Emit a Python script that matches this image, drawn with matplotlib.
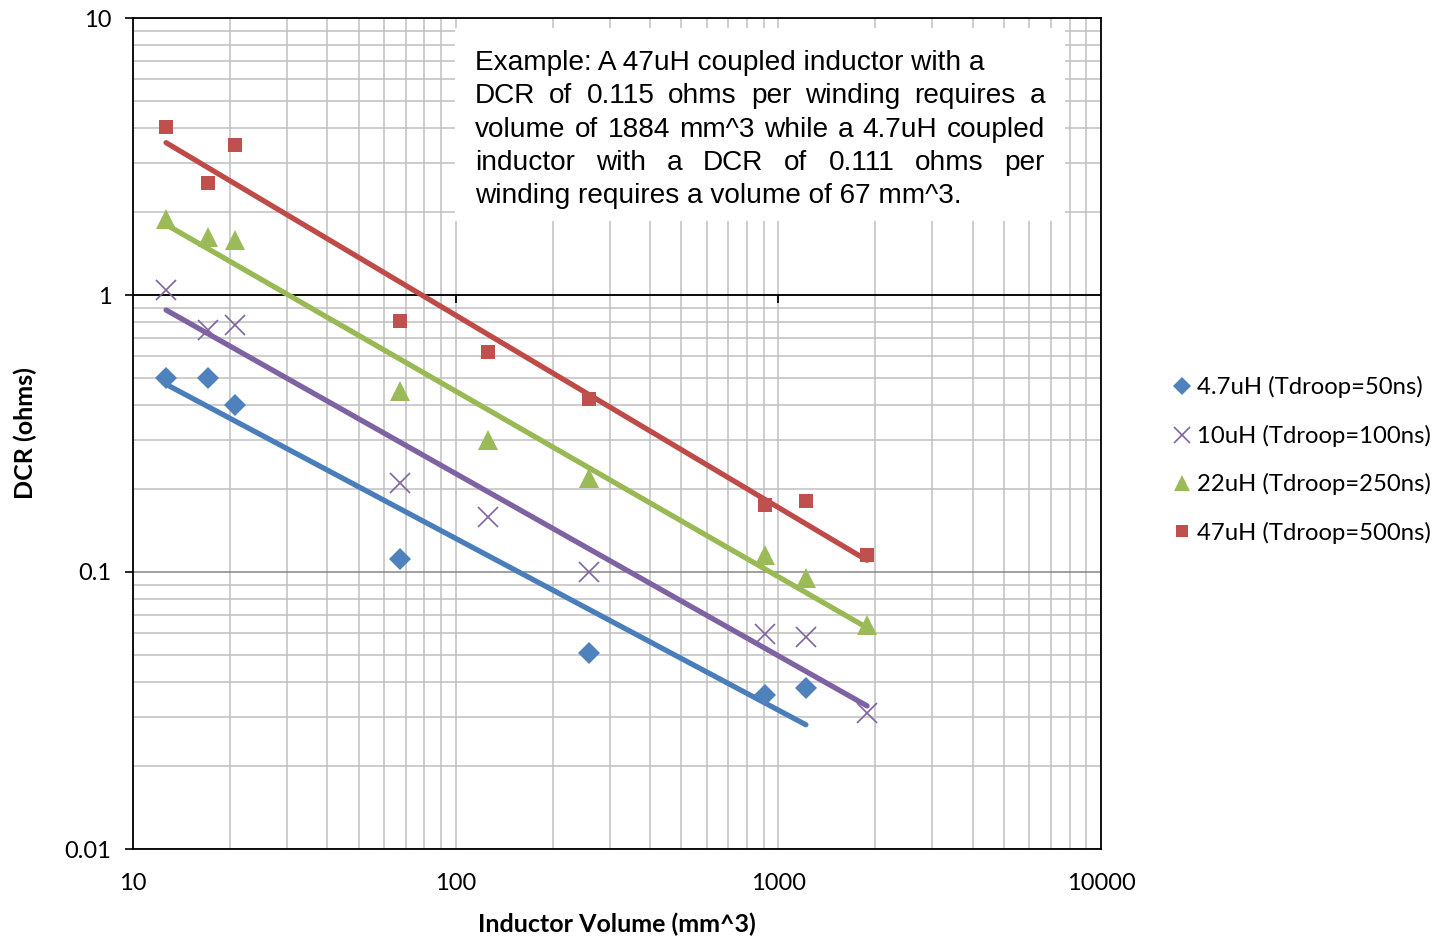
import matplotlib
matplotlib.use("Agg")
import matplotlib.pyplot as plt
import numpy as np
from matplotlib.ticker import FixedLocator, FixedFormatter, LogLocator, NullFormatter
from matplotlib.patches import Rectangle

# ---------------- data ----------------
vol_47 = [12.66, 17.08, 20.7, 67, 259, 908, 1217]
dcr_47 = [0.50, 0.50, 0.401, 0.111, 0.051, 0.036, 0.038]

vol_10 = [12.66, 17.08, 20.7, 67, 126, 259, 908, 1217, 1884]
dcr_10 = [1.04, 0.748, 0.78, 0.21, 0.158, 0.100, 0.0597, 0.0583, 0.031]

vol_22 = [12.66, 17.08, 20.7, 67, 126, 259, 908, 1217, 1884]
dcr_22 = [1.88, 1.62, 1.58, 0.45, 0.30, 0.218, 0.115, 0.095, 0.0644]

vol_470 = [12.66, 17.08, 20.7, 67, 126, 259, 908, 1217, 1884]
dcr_470 = [4.04, 2.54, 3.48, 0.806, 0.622, 0.421, 0.1745, 0.180, 0.115]

labels = ["4.7uH (Tdroop=50ns)", "10uH (Tdroop=100ns)",
          "22uH (Tdroop=250ns)", "47uH (Tdroop=500ns)"]

x_ticks = [10, 100, 1000, 10000]
x_ticklabels = ["10", "100", "1000", "10000"]
y_ticks = [0.01, 0.1, 1, 10]
y_ticklabels = ["0.01", "0.1", "1", "10"]

note_lines = [
    "Example: A 47uH coupled inductor with a",
    "DCR of 0.115 ohms per winding requires a",
    "volume of 1884 mm^3 while a 4.7uH coupled",
    "inductor with a DCR of 0.111 ohms per",
    "winding requires a volume of 67 mm^3.",
]
note_justify = [False, True, True, True, False]

# ---------------- style ----------------
W, H = 1441, 943
fig = plt.figure(figsize=(W / 100, H / 100), dpi=100)
ax = fig.add_axes([133 / W, 1 - 849 / H, (1101 - 133) / W, (849 - 18) / H])

ui_font = ["Lato", "DejaVu Sans"]
note_font = ["Liberation Sans", "DejaVu Sans"]

ax.set_xscale("log")
ax.set_yscale("log")
ax.set_xlim(10, 10000)
ax.set_ylim(0.01, 10)

# grid
ax.set_axisbelow(True)
ax.xaxis.set_minor_locator(LogLocator(base=10, subs=np.arange(2, 10)))
ax.yaxis.set_minor_locator(LogLocator(base=10, subs=np.arange(2, 10)))
ax.xaxis.set_minor_formatter(NullFormatter())
ax.yaxis.set_minor_formatter(NullFormatter())
ax.grid(True, which="minor", axis="both", color="#c0c0c0", lw=1.1)
ax.grid(True, which="major", axis="x", color="#c0c0c0", lw=1.1)
ax.grid(True, which="major", axis="y", color="#868686", lw=1.1)

ax.xaxis.set_major_locator(FixedLocator(x_ticks))
ax.xaxis.set_major_formatter(FixedFormatter(x_ticklabels))
ax.yaxis.set_major_locator(FixedLocator(y_ticks))
ax.yaxis.set_major_formatter(FixedFormatter(y_ticklabels))
ax.tick_params(axis="x", which="both", length=0, pad=17, labelsize=17, colors="black")
ax.tick_params(axis="y", which="major", length=5.5, width=1.2, direction="out", pad=10, labelsize=17)
ax.tick_params(axis="y", which="minor", length=0)
for lab in ax.get_xticklabels() + ax.get_yticklabels():
    lab.set_fontfamily(ui_font)

for sp in ax.spines.values():
    sp.set_color("black")
    sp.set_linewidth(1.3)

# horizontal axis crossing at y = 1, with downward ticks
ax.axhline(1, color="black", lw=1.3, zorder=1.5)
ax.vlines(x_ticks[1:3], 10 ** (-7.5 / 277), 1, color="black", lw=1.3, zorder=1.5)

# white note box
ax.add_patch(Rectangle((0.333, 0.756), 0.630, 0.232, transform=ax.transAxes,
                       facecolor="white", edgecolor="none", zorder=1.2))

# ---------------- series ----------------
series = [
    (vol_47, dcr_47, "D", 11.5, "#4F81BD", "#4A7EBB", labels[0]),
    (vol_10, dcr_10, "x", 14, "#8064A2", "#7E62A1", labels[1]),
    (vol_22, dcr_22, "^", 14.5, "#9BBB59", "#98B954", labels[2]),
    (vol_470, dcr_470, "s", 10.5, "#C0504D", "#BE4B48", labels[3]),
]

handles = []
for xs, ys, mk, ms, mc, lc, lab in series:
    xs = np.array(xs, float)
    ys = np.array(ys, float)
    # power trendline (least squares in log-log space)
    b, a = np.polyfit(np.log(xs), np.log(ys), 1)
    xt = np.array([xs.min(), xs.max()])
    ax.plot(xt, np.exp(a) * xt ** b, color=lc, lw=3.8, solid_capstyle="round", zorder=3)
    if mk == "x":
        h, = ax.plot(xs, ys, ls="none", marker=mk, ms=ms, mec=mc, mew=1.2, label=lab, zorder=4)
    else:
        h, = ax.plot(xs, ys, ls="none", marker=mk, ms=ms, mfc=mc, mec=mc, mew=0, label=lab, zorder=4)
    handles.append(h)

leg = fig.legend(handles=handles, loc="center left", bbox_to_anchor=(1170 / W, 1 - 460 / H),
                 frameon=False, prop={"family": ui_font, "size": 17.2},
                 handlelength=1.0, handletextpad=0.12, borderpad=0, borderaxespad=0,
                 labelspacing=1.1, markerscale=0.8)

# axis titles
fig.text(617 / W, 1 - 924 / H, "Inductor Volume (mm^3)", ha="center", va="center",
         fontsize=18, fontweight="bold", family=ui_font)
fig.text(25 / W, 1 - 433 / H, "DCR (ohms)", ha="center", va="center", rotation=90,
         fontsize=18, fontweight="bold", family=ui_font)

# ---------------- justified note text ----------------
note_fs = 20.2
left_px, right_px = 475, 1045
base0, step = 70, 33.3
renderer = fig.canvas.get_renderer()


def text_width(s):
    t = fig.text(0, 0, s, fontsize=note_fs, family=note_font)
    w = t.get_window_extent(renderer=renderer).width
    t.remove()
    return w


for i, (line, just) in enumerate(zip(note_lines, note_justify)):
    yb = 1 - (base0 + i * step) / H
    if not just:
        fig.text(left_px / W, yb, line, fontsize=note_fs, family=note_font,
                 ha="left", va="baseline", zorder=5)
        continue
    words = line.split()
    widths = [text_width(w) for w in words]
    gap = (right_px - left_px - sum(widths)) / (len(words) - 1)
    x = left_px
    for w, ww in zip(words, widths):
        fig.text(x / W, yb, w, fontsize=note_fs, family=note_font,
                 ha="left", va="baseline", zorder=5)
        x += ww + gap

fig.savefig("out.png", dpi=100)
